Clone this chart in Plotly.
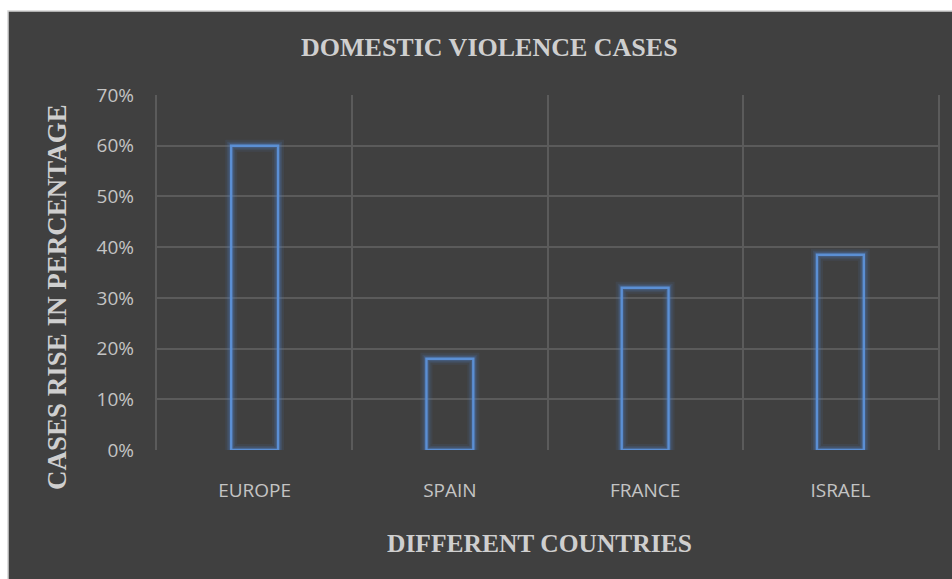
import plotly.graph_objects as go

# Chart data
countries = ["EUROPE", "SPAIN", "FRANCE", "ISRAEL"]
rise_pct = [0.60, 0.18, 0.32, 0.385]
y_ticks = [0, 0.1, 0.2, 0.3, 0.4, 0.5, 0.6, 0.7]
y_tick_labels = ["0%", "10%", "20%", "30%", "40%", "50%", "60%", "70%"]

W, H = 952, 579
L, R, T, B = 157, 14, 95, 129
plot_w = W - L - R
plot_h = H - T - B

bg = "#404040"
grid = "#5b5b5b"
bar_line = "#5b8fd4"
tick_col = "#c4c4c4"
title_col = "#cfcfcf"
serif = "Liberation Serif"

fig = go.Figure()

# Soft glow around the outlined bars: wide translucent strokes underneath
for width, alpha in [(12, 0.10), (8, 0.16), (5, 0.26)]:
    fig.add_trace(go.Bar(
        x=countries, y=rise_pct, width=0.24,
        marker=dict(color="rgba(0,0,0,0)",
                    line=dict(color=f"rgba(79,129,200,{alpha})", width=width)),
        hoverinfo="skip", showlegend=False,
    ))

fig.add_trace(go.Bar(
    x=countries, y=rise_pct, width=0.24,
    marker=dict(color="rgba(0,0,0,0)", line=dict(color=bar_line, width=2.4)),
    showlegend=False,
))

# Dark chart area with a light border, inset from the page edge
px = lambda p: (p - L) / plot_w
py = lambda p: (H - B - p) / plot_h
fig.add_shape(type="rect", xref="paper", yref="paper",
              x0=px(8), x1=px(W + 5), y0=py(H + 5), y1=py(11),
              fillcolor=bg, line=dict(color="#d4d4d4", width=1.5), layer="below")

# Titles
title_kw = dict(xref="paper", yref="paper", showarrow=False,
                xanchor="center", yanchor="middle")
fig.add_annotation(text="<b>DOMESTIC VIOLENCE CASES</b>",
                   x=px(489), y=py(48),
                   font=dict(family=serif, size=26, color=title_col), **title_kw)
fig.add_annotation(text="<b>DIFFERENT COUNTRIES</b>",
                   x=px(539), y=py(543),
                   font=dict(family=serif, size=25.5, color=title_col), **title_kw)
fig.add_annotation(text="<b>CASES RISE IN PERCENTAGE</b>",
                   x=px(57), y=py(297), textangle=-90,
                   font=dict(family=serif, size=27, color=title_col), **title_kw)

fig.update_layout(
    width=W, height=H,
    margin=dict(l=L, r=R, t=T, b=B),
    paper_bgcolor="white", plot_bgcolor="rgba(0,0,0,0)",
    barmode="overlay",
    xaxis=dict(
        showgrid=True, gridcolor=grid, gridwidth=1.5,
        showline=False, zeroline=False, ticks="",
        tickfont=dict(family="Open Sans", size=19, color=tick_col),
        ticklabelstandoff=27, tickson="boundaries",
    ),
    # gridlines above the baseline, plus left/right frame lines
    yaxis=dict(
        range=[0, 0.7], tickvals=y_ticks[1:], showticklabels=False,
        showgrid=True, gridcolor=grid, gridwidth=1.5,
        zeroline=False, showline=True, mirror=True, linecolor=grid, linewidth=1.5,
        ticks="",
    ),
    # percentage labels
    yaxis2=dict(
        range=[0, 0.7], tickvals=y_ticks, ticktext=y_tick_labels,
        overlaying="y", side="left", showgrid=False, zeroline=False,
        showline=False, ticks="",
        tickfont=dict(family="Open Sans", size=19, color=tick_col),
        ticklabelstandoff=22,
    ),
)

# invisible trace so the label axis is drawn
fig.add_trace(go.Scatter(x=countries, y=rise_pct, yaxis="y2", mode="markers",
                         marker=dict(opacity=0), hoverinfo="skip", showlegend=False))

fig.write_html("out.html")
